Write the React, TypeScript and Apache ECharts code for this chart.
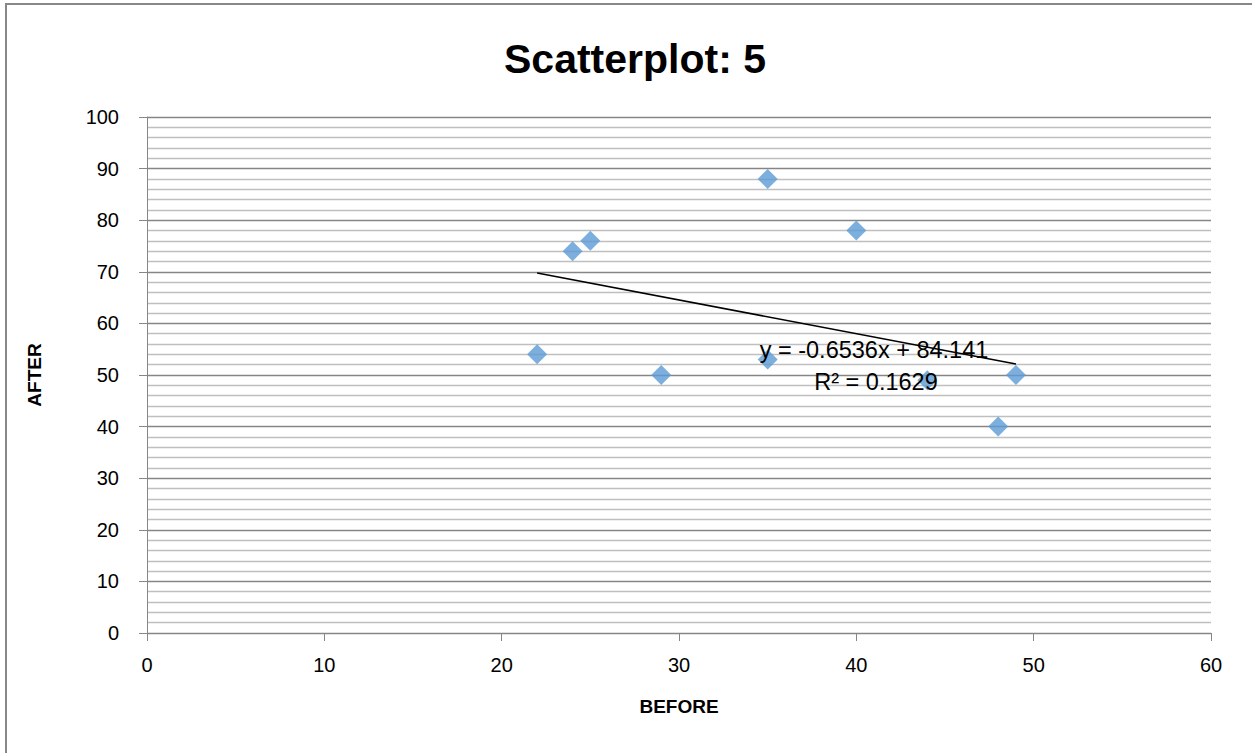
import React, { useEffect, useRef } from "react";
import * as echarts from "echarts";

const beforeValues = [22, 24, 25, 29, 35, 35, 40, 44, 48, 49];
const afterValues = [54, 74, 76, 50, 88, 53, 78, 49, 40, 50];
const trendSlope = -0.6536;
const trendIntercept = 84.141;
const equationLines = ["y = -0.6536x + 84.141", "R² = 0.1629"];
const titleText = "Scatterplot: 5";
const xName = "BEFORE";
const yName = "AFTER";

const FONT = "'Liberation Sans', Arial, sans-serif";

export default function App() {
  const ref = useRef<HTMLDivElement>(null);
  useEffect(() => {
    if (!ref.current) return;
    const chart = echarts.init(ref.current, null, { renderer: "svg" });
    const points = beforeValues.map((x, i) => [x, afterValues[i]]);
    const xMin = Math.min(...beforeValues);
    const xMax = Math.max(...beforeValues);
    const trend = [
      [xMin, trendSlope * xMin + trendIntercept],
      [xMax, trendSlope * xMax + trendIntercept],
    ];
    chart.setOption({
      animation: false,
      backgroundColor: "#ffffff",
      title: {
        text: titleText,
        left: 630,
        textAlign: "center",
        top: 33,
        textStyle: { fontFamily: FONT, fontSize: 41, fontWeight: "bold", color: "#000" },
      },
      grid: { left: 147, right: 41, top: 117, bottom: 120 },
      xAxis: {
        type: "value",
        min: 0,
        max: 60,
        interval: 10,
        name: xName,
        nameLocation: "middle",
        nameGap: 64,
        nameTextStyle: { fontFamily: FONT, fontSize: 19, fontWeight: "bold", color: "#000" },
        axisLine: { show: true, onZero: false, lineStyle: { color: "#868686", width: 1 } },
        axisTick: { show: true, length: 8, lineStyle: { color: "#868686" } },
        axisLabel: { fontFamily: FONT, fontSize: 20, color: "#000", margin: 22 },
        splitLine: { show: false },
      },
      yAxis: {
        type: "value",
        min: 0,
        max: 100,
        interval: 10,
        name: yName,
        nameLocation: "middle",
        nameGap: 103,
        nameRotate: 90,
        nameTextStyle: { fontFamily: FONT, fontSize: 19, fontWeight: "bold", color: "#000" },
        axisLine: { show: true, onZero: false, lineStyle: { color: "#868686", width: 1 } },
        axisTick: { show: true, inside: false, length: 8, lineStyle: { color: "#868686" } },
        axisLabel: { fontFamily: FONT, fontSize: 20, color: "#000", margin: 28 },
        splitLine: { show: true, lineStyle: { color: "#868686", width: 1.3 } },
        minorTick: { show: false, splitNumber: 5 },
        minorSplitLine: { show: true, lineStyle: { color: "#bfbfbf", width: 1.3 } },
      },
      series: [
        {
          type: "line",
          data: trend,
          symbol: "none",
          lineStyle: { color: "#000", width: 1.6 },
          z: 3,
        },
        {
          type: "scatter",
          data: points,
          symbol: "diamond",
          symbolSize: [20, 20],
          itemStyle: { color: "#5b9bd5" },
          z: 2,
        },
      ],
      graphic: [
        {
          type: "rect",
          shape: { x: 6, y: 4, width: 1400, height: 900 },
          style: { fill: "none", stroke: "#888888", lineWidth: 2 },
          silent: true,
          z: 0,
        },
        {
          type: "text",
          x: 874,
          y: 350,
          z: 10,
          style: {
            text: equationLines[0],
            fontFamily: FONT,
            fontSize: 23.5,
            fill: "#000",
            textAlign: "center",
            textVerticalAlign: "middle",
          },
        },
        {
          type: "text",
          x: 876,
          y: 382,
          z: 10,
          style: {
            text: equationLines[1],
            fontFamily: FONT,
            fontSize: 23.5,
            fill: "#000",
            textAlign: "center",
            textVerticalAlign: "middle",
          },
        },
      ],
    });
    return () => chart.dispose();
  }, []);
  return (
    <div
      ref={ref}
      style={{ position: "absolute", left: 0, top: 0, width: 1252, height: 753 }}
    />
  );
}
